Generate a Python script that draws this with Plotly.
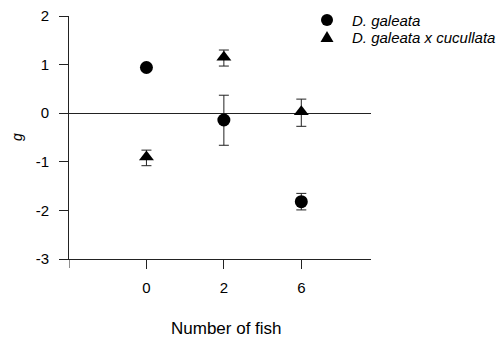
import plotly.graph_objects as go

# Number of fish (categorical treatments)
fish = ["0", "2", "6"]

# Growth rate g, with upper/lower error bar lengths
galeata_g = [0.94, -0.14, -1.82]
galeata_err_up = [0.05, 0.51, 0.17]
galeata_err_down = [0.05, 0.52, 0.17]

hybrid_g = [-0.90, 1.15, 0.03]
hybrid_err_up = [0.14, 0.15, 0.26]
hybrid_err_down = [0.18, 0.18, 0.30]

y_ticks = [2, 1, 0, -1, -2, -3]
y_tick_labels = ["2", "1", "0", "-1", "-2", "-3"]

series_names = ["D. galeata", "D. galeata x cucullata"]

FONT = "Liberation Sans, Arial, Helvetica, sans-serif"
LINE = "#222222"

# plot area in pixels
L, R, T, B = 69, 371, 16, 259


def px(x):
    return (x - L) / (R - L)


def py(y):
    return (B - y) / (B - T)


fig = go.Figure()

fig.add_trace(go.Scatter(
    x=fish, y=galeata_g, mode="markers", name=series_names[0],
    marker=dict(symbol="circle", size=13, color="black"),
    error_y=dict(type="data", symmetric=False, array=galeata_err_up,
                 arrayminus=galeata_err_down, color=LINE, thickness=1, width=5),
))
fig.add_trace(go.Scatter(
    x=fish, y=hybrid_g, mode="markers", name=series_names[1],
    marker=dict(symbol="triangle-up", size=13, color="black"),
    error_y=dict(type="data", symmetric=False, array=hybrid_err_up,
                 arrayminus=hybrid_err_down, color=LINE, thickness=1, width=5),
))

# y axis line continues a little below the x axis
fig.add_shape(type="line", xref="x", yref="paper", x0=-1, x1=-1, y0=0, y1=-9 / (B - T),
              line=dict(color=LINE, width=1))

# key: symbols and italic labels
rows = [20, 37]
fig.add_shape(type="circle", xref="paper", yref="paper",
              xsizemode="pixel", ysizemode="pixel",
              xanchor=px(327), yanchor=py(rows[0]),
              x0=-6, x1=6, y0=-6, y1=6,
              fillcolor="black", line=dict(color="black", width=0))
fig.add_shape(type="path", xref="paper", yref="paper",
              xsizemode="pixel", ysizemode="pixel",
              xanchor=px(327), yanchor=py(rows[1]),
              path="M -6.5,-5 L 6.5,-5 L 0,6 Z",
              fillcolor="black", line=dict(color="black", width=0))
for name, row in zip(series_names, rows):
    fig.add_annotation(text=f"<i>{name}</i>", xref="paper", yref="paper",
                       x=px(350), y=py(row), showarrow=False,
                       font=dict(family=FONT, size=15, color="black"),
                       xanchor="left", yanchor="middle")

fig.add_annotation(text="Number of fish", xref="paper", yref="paper",
                   x=px(226), y=py(328), showarrow=False,
                   font=dict(family=FONT, size=17, color="black"),
                   xanchor="center", yanchor="middle")
fig.add_annotation(text="<i>g</i>", xref="paper", yref="paper",
                   x=px(17), y=py(137), showarrow=False,
                   textangle=-90, font=dict(family=FONT, size=14, color="black"),
                   xanchor="center", yanchor="middle")

fig.update_layout(
    width=503, height=339,
    margin=dict(l=L, r=503 - R, t=T, b=339 - B),
    paper_bgcolor="white", plot_bgcolor="white",
    font=dict(family=FONT, size=14, color="black"),
    showlegend=False,
    xaxis=dict(type="category", range=[-1, 2.9], showgrid=False, zeroline=False,
               automargin=False,
               showline=True, linecolor=LINE, linewidth=1,
               ticks="outside", ticklen=9, tickcolor=LINE, ticklabelstandoff=6,
               tickfont=dict(family=FONT, size=15, color="black")),
    yaxis=dict(range=[-3, 2], tickvals=y_ticks, ticktext=y_tick_labels, showgrid=False,
               automargin=False,
               zeroline=True, zerolinecolor=LINE, zerolinewidth=1,
               showline=True, linecolor=LINE, linewidth=1,
               ticks="outside", ticklen=9, tickcolor=LINE, ticklabelstandoff=7,
               tickfont=dict(family=FONT, size=15, color="black")),
)

fig.write_html("out.html")
